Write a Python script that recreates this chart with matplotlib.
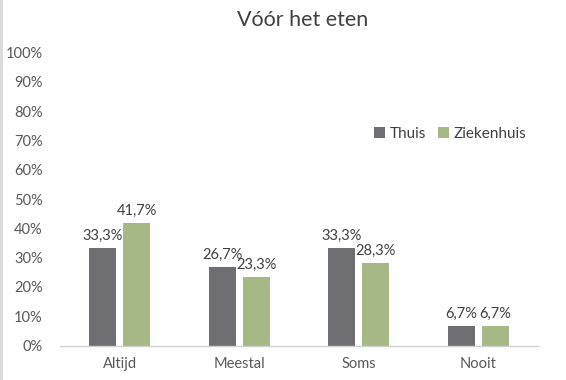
import matplotlib
matplotlib.use("Agg")
import matplotlib.pyplot as plt
import numpy as np
from matplotlib.lines import Line2D

categories = ["Altijd", "Meestal", "Soms", "Nooit"]
thuis = [33.3, 26.7, 33.3, 6.7]
ziekenhuis = [41.7, 23.3, 28.3, 6.7]
yticks = [0, 10, 20, 30, 40, 50, 60, 70, 80, 90, 100]

plt.rcParams['font.family'] = ['Lato', 'DejaVu Sans']

W, H = 566, 380
fig = plt.figure(figsize=(W/100, H/100), dpi=100)
ax = fig.add_axes([60/W, 1-345.6/H, 478/W, 293/H])

x = np.arange(len(categories))
bw = 0.226
off = 0.142
c1 = "#6e6d72"
c2 = "#a6b886"
b1 = ax.bar(x - off, thuis, bw, color=c1, label="Thuis")
b2 = ax.bar(x + off, ziekenhuis, bw, color=c2, label="Ziekenhuis")

for bars, vals in ((b1, thuis), (b2, ziekenhuis)):
    for b, v in zip(bars, vals):
        ax.text(b.get_x() + b.get_width()/2, v + 1.8, f"{v:.1f}%".replace(".", ","),
                ha="center", va="bottom", fontsize=10.5, color="#404040")

ax.set_xlim(-0.5, 3.5)
ax.set_ylim(0, 100)
ax.set_yticks(yticks)
ax.set_yticklabels([f"{t}%" for t in yticks])
ax.set_xticks(x)
ax.set_xticklabels(categories)
ax.tick_params(axis="both", length=0, labelsize=10.5, labelcolor="#595959")
ax.tick_params(axis="y", pad=12.5)
ax.tick_params(axis="x", pad=8)
for s in ("top", "right", "left"):
    ax.spines[s].set_visible(False)
ax.spines["bottom"].set_color("#d0d0d0")
ax.spines["bottom"].set_linewidth(1)

fig.text(303/W, 1-20/H, "Vóór het eten", ha="center", va="center", fontsize=15.5, color="#404040")

leg = ax.legend(loc="center left", bbox_to_anchor=((368-60)/478, (345.6-134)/293),
                frameon=False, ncol=2, fontsize=11, handlelength=0.7, handleheight=0.7,
                handletextpad=0.3, columnspacing=0.8, labelcolor="#404040", borderaxespad=0)

fig.add_artist(Line2D([1/W, 1/W], [0, 1], color="#d9d9d9", lw=2, transform=fig.transFigure))

fig.savefig("out.png", dpi=100)
